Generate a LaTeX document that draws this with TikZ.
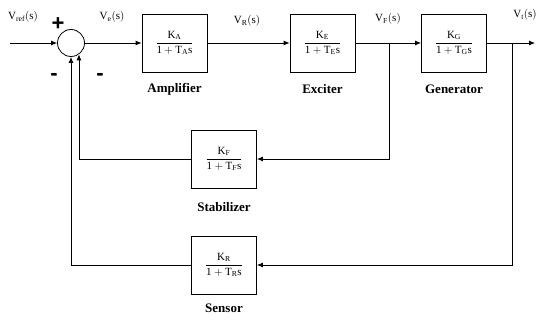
\documentclass[tikz,border=0pt]{standalone}
\usepackage{fontspec}
\setmainfont{Liberation Serif}
\newfontfamily\signfont{Liberation Sans}
\usetikzlibrary{arrows.meta}
\newcommand\tfn[1]{$\displaystyle\frac{\mathrm{K_{#1}}}{\mathrm{1+T_{#1}s}}$}
\begin{document}
\begin{tikzpicture}[x=1pt,y=-1pt,
  blk/.style={draw,line width=0.8pt,minimum width=65pt,minimum height=58pt,inner sep=0pt,font=\fontsize{11}{13}\selectfont},
  sumnode/.style={draw,circle,line width=0.8pt,minimum size=27pt,inner sep=0pt},
  conn/.style={line width=0.8pt,-{Latex[length=6pt,width=5pt]}},
  sig/.style={font=\fontsize{11}{13}\selectfont,inner sep=0pt},
  blkcaption/.style={font=\fontsize{13}{15}\selectfont\bfseries,inner sep=0pt},
  sgn/.style={font=\signfont\bfseries\fontsize{22}{24}\selectfont,inner sep=0pt}]
\useasboundingbox (0,0) rectangle (537,320);
\node[sumnode] (sum) at (71,43) {};
\node[blk] (amp) at (174.5,43) {\tfn{A}};
\node[blk] (exc) at (322.5,43) {\tfn{E}};
\node[blk] (gen) at (454,43) {\tfn{G}};
\node[blk] (stab) at (224,159) {\tfn{F}};
\node[blk] (sens) at (224,265) {\tfn{R}};
\node[blkcaption] (ampcap) at (174.5,89) {Amplifier};
\node[blkcaption] (exccap) at (322.5,89) {Exciter};
\node[blkcaption] (gencap) at (454,89) {Generator};
\node[blkcaption] (stabcap) at (224,207) {Stabilizer};
\node[blkcaption] (senscap) at (224,308) {Sensor};
\node[sig] (lref) at (23,17) {$\mathrm{V_{ref}(s)}$};
\node[sig] (le) at (112,17) {$\mathrm{V_{e}(s)}$};
\node[sig] (lr) at (247,21) {$\mathrm{V_{R}(s)}$};
\node[sig] (lf) at (388,19) {$\mathrm{V_{F}(s)}$};
\node[sig] (lt) at (525,15) {$\mathrm{V_{t}(s)}$};
\node[sgn] (plus) at (58,24) {+};
\node[sgn] (m1) at (54,77) {-};
\node[sgn] (m2) at (100,77) {-};
\coordinate (in) at (10,43);
\coordinate (out) at (535,43);
\coordinate (b1) at (389,43);
\coordinate (b2) at (512,43);
\draw[conn] (in) -- (sum);
\draw[conn] (sum) -- (amp);
\draw[conn] (amp) -- (exc);
\draw[conn] (exc) -- (gen);
\draw[conn] (gen) -- (out);
\draw[conn] (b1) |- (stab);
\draw[conn] (b2) |- (sens);
\draw[conn] (stab) -| (sum.-55);
\draw[conn] (sens) -| (sum);
\end{tikzpicture}
\end{document}
